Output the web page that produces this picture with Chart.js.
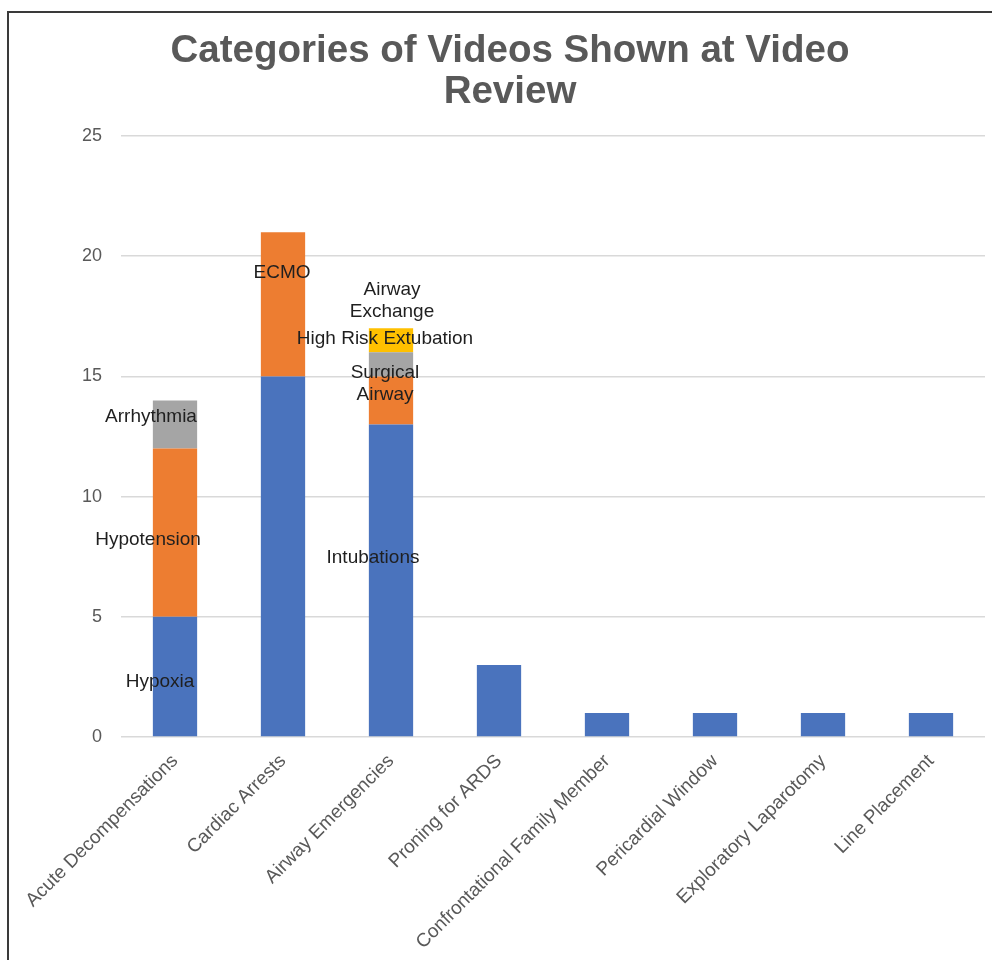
<!DOCTYPE html>
<html><head><meta charset="utf-8">
<script src="https://cdn.jsdelivr.net/npm/chart.js@4.4.0/dist/chart.umd.min.js"></script>
<style>
html,body{margin:0;padding:0;background:#fff;}
#wrap{position:relative;width:992px;height:960px;overflow:hidden;}
#frame{position:absolute;left:7px;top:11px;right:-4px;bottom:-4px;border-left:2px solid #3a3a3a;border-top:2px solid #3a3a3a;pointer-events:none;}
canvas{display:block}
</style></head><body>
<div id="wrap"><canvas id="c" width="992" height="960"></canvas><div id="frame"></div></div>
<script>
const chartTitle = ["Categories of Videos Shown at Video", "Review"];
const categories = ["Acute Decompensations", "Cardiac Arrests", "Airway Emergencies", "Proning for ARDS",
  "Confrontational Family Member", "Pericardial Window", "Exploratory Laparotomy", "Line Placement"];
const firstCounts  = [5, 15, 13, 3, 1, 1, 1, 1];
const secondCounts = [7, 6, 2, 0, 0, 0, 0, 0];
const thirdCounts  = [2, 0, 1, 0, 0, 0, 0, 0];
const fourthCounts = [0, 0, 1, 0, 0, 0, 0, 0];
const firstLabels  = ["Hypoxia", "", "Intubations", "", "", "", "", ""];
const secondLabels = ["Hypotension", "ECMO", ["Surgical", "Airway"], "", "", "", "", ""];
const thirdLabels  = ["Arrhythmia", "", "High Risk Extubation", "", "", "", "", ""];
const fourthLabels = ["", "", ["Airway", "Exchange"], "", "", "", "", ""];
const yTicks = [0, 5, 10, 15, 20, 25];

// label placement offsets (pixels, relative to segment centre), keyed "dataset-index"
const labelOffsets = {
  "0-0": [-15, 5], "1-0": [-27, 7], "2-0": [-24, -8],
  "1-1": [-1, -32],
  "0-2": [-18, -23], "1-2": [-6, -17], "2-2": [-6, -26], "3-2": [1, -40]
};

const FONT = '"Liberation Sans", Arial, sans-serif';
const colors = ["#4A73BD", "#ED7D31", "#A5A5A5", "#FFC000"];

const titlePlugin = {
  id: 'customTitle',
  afterDraw(chart) {
    const ctx = chart.ctx;
    ctx.save();
    ctx.font = 'bold 38.5px ' + FONT;
    ctx.fillStyle = '#595959';
    ctx.textAlign = 'center';
    ctx.textBaseline = 'alphabetic';
    ctx.fillText(chartTitle[0], 510, 62);
    ctx.fillText(chartTitle[1], 510, 103);
    ctx.restore();
  }
};

const labelPlugin = {
  id: 'segLabels',
  afterDatasetsDraw(chart) {
    const ctx = chart.ctx;
    ctx.save();
    ctx.font = '19px ' + FONT;
    ctx.fillStyle = '#1f1f1f';
    ctx.textAlign = 'center';
    ctx.textBaseline = 'middle';
    chart.data.datasets.forEach((ds, di) => {
      const meta = chart.getDatasetMeta(di);
      ds.segmentLabels.forEach((lab, i) => {
        if (!lab || (Array.isArray(lab) && !lab.length)) return;
        const bar = meta.data[i];
        const cy = (bar.y + bar.base) / 2;
        const off = labelOffsets[di + '-' + i] || [0, 0];
        const lines = Array.isArray(lab) ? lab : [lab];
        lines.forEach((ln, k) => {
          ctx.fillText(ln, bar.x + off[0], cy + off[1] + (k - (lines.length - 1) / 2) * 22);
        });
      });
    });
    ctx.restore();
  }
};

const seriesCounts = [firstCounts, secondCounts, thirdCounts, fourthCounts];
const seriesLabels = [firstLabels, secondLabels, thirdLabels, fourthLabels];

new Chart(document.getElementById('c'), {
  type: 'bar',
  data: {
    labels: categories,
    datasets: seriesCounts.map((d, i) => ({
      data: d,
      backgroundColor: colors[i],
      borderWidth: 0,
      categoryPercentage: 0.41,
      barPercentage: 1,
      segmentLabels: seriesLabels[i]
    }))
  },
  options: {
    responsive: false,
    animation: false,
    layout: { padding: { top: 136, right: 7, left: 0, bottom: 0 } },
    plugins: { legend: { display: false }, title: { display: false }, tooltip: { enabled: false } },
    scales: {
      x: {
        stacked: true,
        grid: { display: false },
        border: { display: false },
        ticks: {
          autoSkip: false, minRotation: 45, maxRotation: 45,
          color: '#595959', font: { family: FONT, size: 19 }, padding: 5
        },
        afterFit(s) { s.height = 223; }
      },
      y: {
        stacked: true,
        min: 0, max: 25,
        afterBuildTicks(s) { s.ticks = yTicks.map(v => ({ value: v })); },
        grid: { color: '#d9d9d9', lineWidth: 1.5, drawTicks: false },
        border: { display: false },
        ticks: { color: '#595959', font: { family: FONT, size: 18 }, padding: 19 },
        afterFit(s) { s.width = 121; }
      }
    }
  },
  plugins: [titlePlugin, labelPlugin]
});
</script>
</body></html>
